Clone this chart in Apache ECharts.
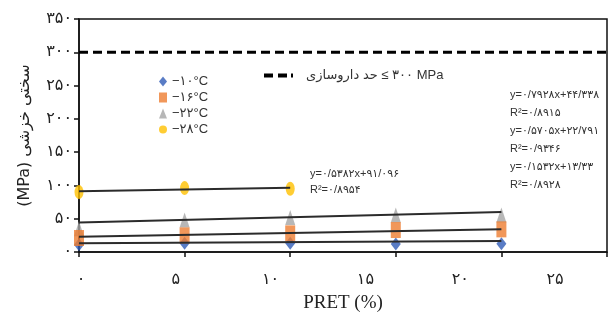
<!DOCTYPE html>
<html>
<head>
<meta charset="utf-8">
<script src="https://cdn.jsdelivr.net/npm/echarts@6/dist/echarts.min.js"></script>
<style>
  html, body { margin: 0; padding: 0; background: #fff; }
  #chart { width: 615px; height: 322px; }
</style>
</head>
<body>
<div id="chart"></div>
<script>
// data
var xValues = [0, 5, 10, 15, 20];
var yellowX = [0, 5, 10];
var seriesNames = ['−۱۰°C', '−۱۶°C', '−۲۲°C', '−۲۸°C'];
var blueVals = [11, 13, 13, 12, 12.5];
var orangeVals = [21, 25, 28, 33, 34];
var grayVals = [35, 48, 52, 55.5, 55.5];
var yellowVals = [90, 96, 95];

// trend lines (end points from the printed equations)
var trendX = [[0, 20], [0, 20], [0, 20], [0, 10]];
var trendY = [[13.3, 16.4], [22.8, 34.2], [44.3, 60.2], [91.1, 96.5]];

var limitName = 'حد داروسازی\u200E ≤ \u200E۳۰۰ MPa';
var limitX = [0, 25];
var limitY = [300, 300];

var xTickValues = [0, 5, 10, 15, 20, 25];
var xTickLabels = ['۰', '۵', '۱۰', '۱۵', '۲۰', '۲۵'];
var yTickLabels = ['۰', '۵۰', '۱۰۰', '۱۵۰', '۲۰۰', '۲۵۰', '۳۰۰', '۳۵۰'];

var eqRight = [
    'y=۰/۷۹۲۸x+۴۴/۳۳۸', 'R²=۰/۸۹۱۵',
    'y=۰/۵۷۰۵x+۲۲/۷۹۱', 'R²=۰/۹۳۴۶',
    'y=۰/۱۵۳۲x+۱۳/۳۳', 'R²=۰/۸۹۲۸'
];
var eqYellow = ['y=۰/۵۳۸۲x+۹۱/۰۹۶', 'R²=۰/۸۹۵۴'];

function pairs(xs, ys) {
    return xs.map(function (x, i) { return [x, ys[i]]; });
}

var myChart = echarts.init(document.getElementById('chart'));

var eqFont = '11px "Liberation Sans", "DejaVu Sans", sans-serif';
var graphics = [];
eqRight.forEach(function (t, i) {
    graphics.push({
        type: 'text', left: 510, top: 89 + i * 18,
        style: { text: t, font: eqFont, fill: '#333' }
    });
});
eqYellow.forEach(function (t, i) {
    graphics.push({
        type: 'text', left: 310, top: 168 + i * 16,
        style: { text: t, font: eqFont, fill: '#333' }
    });
});

var trendSeries = trendX.map(function (xs, i) {
    return {
        name: 'trend' + i,
        type: 'line',
        data: pairs(xs, trendY[i]),
        symbol: 'none',
        silent: true,
        z: 6,
        lineStyle: { color: '#2b2b2b', width: 2 }
    };
});

var legendFont = '"Liberation Sans", "DejaVu Sans", sans-serif';

myChart.setOption({
    animation: false,
    grid: {
        left: 79, right: 8, top: 19, bottom: 70,
        show: true, borderColor: '#111', borderWidth: 1.5
    },
    legend: [
        {
            orient: 'vertical',
            left: 154, top: 70,
            itemWidth: 8, itemHeight: 10,
            itemGap: 3,
            symbolKeepAspect: false,
            textStyle: { fontSize: 13, color: '#333', fontFamily: legendFont },
            data: seriesNames
        },
        {
            left: 259, top: 64,
            itemWidth: 29, itemHeight: 4,
            itemStyle: { color: '#000' },
            icon: 'path://M0,0h9v3h-9z M14,0h9v3h-9z M27,0h2v3h-2z',
            symbolKeepAspect: false,
            textStyle: { fontSize: 13, color: '#333', fontFamily: legendFont, padding: [0, 0, 0, 8] },
            data: [limitName]
        }
    ],
    graphic: graphics,
    xAxis: [
        {
            type: 'value',
            min: 0, max: 25, interval: 5,
            axisLine: { lineStyle: { color: '#111', width: 1.5 } },
            axisTick: { length: 5, lineStyle: { color: '#111', width: 1.5 } },
            axisLabel: { show: false },
            splitLine: { show: false },
            name: 'PRET (%)',
            nameLocation: 'middle',
            nameGap: 42,
            nameTextStyle: { fontFamily: '"Liberation Serif", serif', fontSize: 19, color: '#222' }
        },
        {
            // label row of the original sits slightly off the ticks
            type: 'value',
            position: 'bottom',
            min: -0.105, max: 27.74,
            axisLine: { show: false },
            axisTick: { show: false },
            splitLine: { show: false },
            axisLabel: {
                customValues: xTickValues,
                margin: 20,
                fontSize: 16,
                color: '#222',
                fontFamily: '"DejaVu Sans", serif',
                formatter: function (v) { return xTickLabels[xTickValues.indexOf(v)]; }
            }
        }
    ],
    yAxis: {
        type: 'value',
        min: 0, max: 350, interval: 50,
        axisLine: { show: true, lineStyle: { color: '#111', width: 1.5 } },
        axisTick: { show: true, length: 5, lineStyle: { color: '#111', width: 1.5 } },
        splitLine: { show: false },
        axisLabel: {
            margin: 7,
            fontSize: 16,
            color: '#222',
            fontFamily: '"DejaVu Sans", serif',
            formatter: function (v) { return yTickLabels[v / 50]; }
        },
        name: '(MPa) سختی خزشی',
        nameLocation: 'middle',
        nameGap: 46,
        nameTextStyle: { fontSize: 16, color: '#222', fontFamily: '"DejaVu Sans", sans-serif' }
    },
    series: [
        {
            name: seriesNames[0], type: 'scatter', z: 2,
            symbol: 'diamond', symbolSize: [10, 13],
            itemStyle: { color: '#2f5bb7' },
            data: pairs(xValues, blueVals)
        },
        {
            name: seriesNames[1], type: 'scatter', z: 4,
            symbol: 'rect', symbolSize: [10, 16],
            itemStyle: { color: '#ed7d31' },
            data: pairs(xValues, orangeVals)
        },
        {
            name: seriesNames[2], type: 'scatter', z: 3,
            symbol: 'triangle', symbolSize: [10, 15],
            itemStyle: { color: '#a5a5a5' },
            data: pairs(xValues, grayVals)
        },
        {
            name: seriesNames[3], type: 'scatter', z: 4,
            symbol: 'circle', symbolSize: [9, 14],
            itemStyle: { color: '#ffc000' },
            data: pairs(yellowX, yellowVals)
        },
        {
            name: limitName, type: 'line', z: 5,
            symbol: 'none', silent: true,
            lineStyle: { color: '#000', width: 3, type: [9, 5] },
            itemStyle: { color: '#000' },
            data: pairs(limitX, limitY)
        }
    ].concat(trendSeries)
});
</script>
</body>
</html>
